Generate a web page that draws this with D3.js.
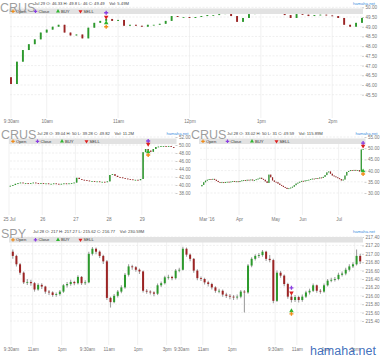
<!DOCTYPE html>
<html><head><meta charset="utf-8">
<script src="https://cdn.jsdelivr.net/npm/d3@7"></script>
<style>body{margin:0;background:#fff}svg{display:block}text{font-family:"Liberation Sans",Arial,sans-serif}</style>
</head><body><svg id="c" width="380" height="358"></svg>
<script>
// ---------- DATA ----------
// Chart 1: CRUS intraday, 5-minute bars (minutes after 9:30)
const crus1Open0 = 46.40;
const crus1Close = [46.05,47.2,47.8,48.1,48.35,48.7,48.85,49.0,49.1,48.7,48.55,48.6,48.4,48.95,49.2,49.3,49.4,49.3,49.35,49.05,
  49.1,49.05,49.0,49.1,49.1,49.15,49.3,49.55,49.5,49.5,49.45,49.5,49.55,49.6,49.6,49.65,49.7,49.55,49.25,49.45,
  49.65,49.7,49.72,49.75,49.72,49.7,49.6,49.45,49.65,49.62,49.55,49.6,49.62,49.58,49.55,49.45,49.1,49.0,49.2,49.45];
const crus1XTicks = [0,30,90,150,210,270];
const crus1XLabels = ["9:30am","10am","11am","12pm","1pm","2pm"];
const crus1YTicks = [45.5,46,46.5,47,47.5,48,48.5,49,49.5,50];
const crus1Marks = [{k:"close",i:16,v:49.72},{k:"sell",i:16,v:49.5},{k:"buy",i:16,v:49.2},{k:"open",i:16,v:49.0}];

// Chart 2: CRUS 5 days, 30-minute bars
const crus2Open0 = 39.7;
const crus2Close = [39.8,40.0,40.3,40.5,40.6,40.5,40.5,40.4,40.5,40.6,40.5,40.4,40.5,
  40.4,40.4,40.3,40.3,40.4,40.3,40.2,40.3,40.4,40.3,40.4,40.5,40.6,
  41.8,41.5,41.3,41.2,41.1,41.0,41.0,40.9,40.9,40.8,40.8,40.7,40.9,
  42.5,42.7,42.3,42.0,41.9,41.7,41.6,41.5,41.4,41.3,41.3,41.2,41.5,
  48.2,49.0,48.6,48.3,49.0,49.5,49.6,49.7,49.7,49.6,49.7,49.5,49.3];
const crus2XTicks = [0,13,26,39,52];
const crus2XLabels = ["25 Jul","26","27","28","29"];
const crus2YTicks = [38,40,42,44,46,48,50,52];
const crus2Marks = [{k:"close",i:54,v:51.0},{k:"sell",i:54,v:50.25},{k:"buy",i:54,v:48.25},{k:"open",i:54,v:47.5}];

// Chart 3: CRUS daily
const crus3Open0 = 33.0;
const crus3Close = [33.6,34.8,35.5,35.9,36.2,36.0,36.3,35.9,35.4,34.9,34.6,34.8,34.5,34.9,35.0,34.8,35.1,35.3,35.0,35.2,
  34.9,35.3,35.6,35.8,35.5,35.9,35.7,36.0,35.6,35.8,36.1,36.4,36.8,36.3,35.9,35.2,34.5,38.2,37.0,35.6,
  35.0,34.8,34.2,33.6,33.2,32.7,32.3,31.8,32.1,32.4,32.8,33.5,34.2,34.6,35.0,35.4,35.2,35.6,35.8,35.9,
  36.2,36.4,36.3,36.6,36.5,36.9,36.7,37.2,38.0,39.2,39.6,38.6,37.8,37.4,37.0,36.6,36.2,35.6,36.0,37.8,
  39.4,39.8,40.2,40.0,40.3,40.1,40.2,39.6,49.4,49.6];
const crus3XTicks = [3,21,41,56,76];
const crus3XLabels = ["Mar '16","Apr","May","Jun","Jul"];
const crus3YTicks = [30,35,40,45,50,55];
const crus3Marks = [{k:"close",i:89,v:52.3},{k:"sell",i:89,v:51.0},{k:"buy",i:89,v:39.8},{k:"open",i:89,v:38.5}];

// Chart 4: SPY, 15-minute bars over four sessions
const spyOpen0 = 217.05;
const spyClose = [216.95,216.75,216.55,216.32,216.33,216.30,216.15,216.26,216.22,216.10,216.08,216.02,216.04,216.10,216.25,216.28,216.33,216.30,216.45,216.30,
  216.32,217.00,217.12,217.05,216.95,216.82,215.95,215.85,216.00,216.10,216.20,216.50,216.70,216.68,216.62,216.58,216.12,216.10,216.08,216.05,
  216.25,216.30,216.44,216.45,216.42,216.60,216.62,217.12,216.98,216.88,216.60,216.42,216.40,216.32,216.28,216.20,216.12,216.12,216.03,216.00,
  215.98,215.96,215.98,216.10,216.08,216.72,216.88,216.95,216.97,217.05,216.88,216.85,215.88,216.55,216.48,216.28,215.98,215.90,215.97,215.90,
  215.98,216.08,216.12,216.25,216.12,216.10,216.25,216.36,216.38,216.40,216.50,216.53,216.62,216.70,216.75,216.95,216.82];
const spyHigh = [217.10,216.98,216.78,216.58,216.40,216.38,216.33,216.30,216.30,216.24,216.14,216.11,216.08,216.14,216.28,216.33,216.38,216.36,216.49,216.47,
  216.37,217.05,217.16,217.15,217.08,216.98,216.85,215.98,216.04,216.14,216.25,216.54,216.75,216.74,216.71,216.65,216.60,216.16,216.13,216.11,
  216.29,216.34,216.48,216.50,216.48,216.64,216.67,217.17,217.15,217.01,216.90,216.63,216.46,216.43,216.36,216.31,216.23,216.17,216.15,216.07,
  216.04,216.02,216.03,216.14,216.14,216.76,216.92,216.99,217.02,217.09,217.07,216.97,216.88,216.60,216.59,216.51,216.31,216.02,216.02,216.00,
  216.03,216.12,216.17,216.29,216.27,216.16,216.29,216.40,216.43,216.45,216.55,216.58,216.67,216.75,216.80,217.10,217.00];
const spyLow = [216.88,216.70,216.50,216.28,216.26,216.24,216.10,216.12,216.16,216.05,216.02,215.98,215.98,216.00,216.07,216.20,216.24,216.25,216.27,216.26,
  216.26,216.30,216.96,216.99,216.90,216.76,215.90,215.72,215.82,215.96,216.06,216.17,216.46,216.62,216.57,216.52,216.08,216.05,216.03,215.99,
  216.02,216.21,216.27,216.39,216.37,216.39,216.56,216.60,216.93,216.82,216.55,216.37,216.35,216.27,216.22,216.15,216.07,216.06,215.98,215.95,
  215.92,215.90,215.91,215.94,215.60,216.05,216.68,216.84,216.90,216.93,216.83,216.80,215.82,215.85,216.43,216.23,215.93,215.84,215.85,215.84,
  215.86,215.95,216.03,216.09,216.07,216.05,216.07,216.22,216.32,216.34,216.37,216.46,216.49,216.58,216.66,216.72,216.76];
const spyXTicks = [0,6,14,21,27,35,43,47,53,61,73,79,87,95];
const spyXLabels = ["9:30am","11am","1pm","9:30am","11am","1pm","3pm","9:30am","11am","1pm","9:30am","11am","1pm","3pm"];
const spyYTicks = [215.4,215.6,215.8,216.0,216.2,216.4,216.6,216.8,217.0,217.2,217.4];
const spyMarks = [{k:"close",i:77,v:216.19},{k:"sell",i:77,v:216.07},{k:"buy",i:77,v:215.64},{k:"open",i:77,v:215.57}];

const legendItems = [{k:"open",t:"Open"},{k:"close",t:"Close"},{k:"buy",t:"BUY"},{k:"sell",t:"SELL"}];

// ---------- DRAWING ----------
const svg = d3.select("#c");
svg.append("rect").attr("width",380).attr("height",358).attr("fill","#fff");
const UP="#2c9a2c", DOWN="#9c2424", WICK="#a0a0a0";
const MCOL={open:"#f08c1a",close:"#8a3fe0",buy:"#2fb52f",sell:"#dd1f1f"};

function marker(g, k, cx, cy, s){
  const sym = (k==="buy"||k==="sell") ? d3.symbolTriangle : d3.symbolCross;
  g.append("path").attr("d", d3.symbol().type(sym).size(s)())
    .attr("transform",`translate(${cx},${cy})${k==="sell"?" rotate(180)":""}`)
    .attr("fill",MCOL[k]);
}

function panel(c){
  const g = svg.append("g");
  const x = d3.scaleLinear().domain(c.xDomain).range(c.xRange);
  const y = d3.scaleLinear().domain(c.yDomain).range(c.yRange);
  const [L,R] = c.plotX;
  // grid
  g.append("g").selectAll("line").data(c.yTicks).join("line")
    .attr("x1",L).attr("x2",R).attr("y1",d=>y(d)).attr("y2",d=>y(d))
    .attr("stroke","#e4e4e4").attr("stroke-width",0.6).attr("stroke-dasharray","2,1.5");
  g.append("g").selectAll("line").data(c.xTicks).join("line")
    .attr("x1",d=>x(d)).attr("x2",d=>x(d)).attr("y1",c.plotY[0]).attr("y2",c.plotY[1])
    .attr("stroke","#e8e8e8").attr("stroke-width",0.6);
  // axes
  const ya = g.append("g").attr("transform",`translate(${R},0)`)
    .call(d3.axisRight(y).tickValues(c.yTicks).tickFormat(d3.format(".2f")).tickSize(2).tickPadding(1.5));
  ya.select(".domain").remove();
  ya.selectAll("line").attr("stroke","#999").attr("stroke-width",0.5);
  ya.selectAll("text").attr("font-size",4.6).attr("fill","#777").attr("font-family","Liberation Sans, Arial");
  const xa = g.append("g").attr("transform",`translate(0,${c.xLabelY})`)
    .call(d3.axisBottom(x).tickValues(c.xTicks).tickFormat((d,i)=>c.xLabels[i]).tickSize(0).tickPadding(0));
  xa.select(".domain").remove();
  xa.selectAll("text").attr("font-size",4.6).attr("fill","#777").attr("font-family","Liberation Sans, Arial");
  // candles
  const bars = c.close.map((cl,i)=>{
    const o = i===0 ? c.open0 : c.close[i-1];
    const h = c.high ? c.high[i] : Math.max(o,cl);
    const l = c.low ? c.low[i] : Math.min(o,cl);
    return {i,o,c:cl,h,l};
  });
  const cg = g.append("g");
  cg.selectAll("line").data(bars).join("line")
    .attr("x1",d=>x(c.pos(d.i))).attr("x2",d=>x(c.pos(d.i)))
    .attr("y1",d=>y(d.h)).attr("y2",d=>y(d.l))
    .attr("stroke",c.high?WICK:"#555").attr("stroke-width",c.high?1.1:0.5);
  cg.selectAll("rect").data(bars).join("rect")
    .attr("x",d=>x(c.pos(d.i))-c.bw/2).attr("width",c.bw)
    .attr("y",d=>y(Math.max(d.o,d.c)))
    .attr("height",d=>Math.max(0.8,Math.abs(y(d.o)-y(d.c))))
    .attr("fill",d=>d.c>=d.o?UP:DOWN);
  // legend bar
  g.append("rect").attr("x",L-1).attr("y",c.legY).attr("width",R-L+2).attr("height",5.5).attr("fill","#e2e2e2");
  legendItems.forEach((it,j)=>{
    const lx = L+3+j*c.legStep;
    marker(g,it.k,lx,c.legY+2.8,7);
    g.append("text").attr("x",lx+3).attr("y",c.legY+4.3).attr("font-size",4.2).attr("fill","#333").text(it.t);
  });
  // title, header, link
  g.append("text").attr("x",c.titleX).attr("y",c.titleY).attr("font-size",12.5).attr("fill","#8c8c8c").attr("fill-opacity",0.85).text(c.title);
  g.append("text").attr("x",c.headX).attr("y",c.headY).attr("font-size",4.2).attr("fill","#444").attr("xml:space","preserve").text(c.header);
  g.append("text").attr("x",R+13).attr("y",c.headY).attr("font-size",4.2).attr("fill","#3d8fe0").attr("text-anchor","end").text("hamaha.net");
  // signal markers
  c.marks.forEach(m=>marker(g,m.k,x(c.pos(m.i)),y(m.v),9));
}

panel({title:"CRUS",titleX:0,titleY:12,headX:34,headY:5,
  header:"Jul 29 O: 46.33 H: 49.8 L: 46 C: 49.49    Vol: 5.49M",
  open0:crus1Open0,close:crus1Close,pos:i=>i*5,bw:1.9,
  xDomain:[0,295],xRange:[11,362],yDomain:[45.5,50],yRange:[94.7,7.3],
  plotX:[10,362],plotY:[8,118],xLabelY:120,legY:8.5,legStep:22.5,
  xTicks:crus1XTicks,xLabels:crus1XLabels,yTicks:crus1YTicks,marks:crus1Marks});

panel({title:"CRUS",titleX:1,titleY:139,headX:37,headY:134.5,
  header:"Jul 28 O: 39.04 H: 50 L: 39.28 C: 49.82    Vol: 11.2M",
  open0:crus2Open0,close:crus2Close,pos:i=>i+0.5,bw:1.5,
  xDomain:[0,65],xRange:[9,175],yDomain:[38,52],yRange:[193,137],
  plotX:[10,175.5],plotY:[138,215],xLabelY:218,legY:138.5,legStep:24.5,
  xTicks:crus2XTicks,xLabels:crus2XLabels,yTicks:crus2YTicks,marks:crus2Marks});

panel({title:"CRUS",titleX:191,titleY:139,headX:227,headY:134.5,
  header:"Jul 28 O: 33.02 H: 50 L: 31 C: 49.59    Vol: 115.89M",
  open0:crus3Open0,close:crus3Close,pos:i=>i+0.5,bw:1.2,
  xDomain:[0,90],xRange:[201,364],yDomain:[30,55],yRange:[193,137],
  plotX:[200,364.5],plotY:[138,215],xLabelY:218,legY:138.5,legStep:24.5,
  xTicks:crus3XTicks,xLabels:crus3XLabels,yTicks:crus3YTicks,marks:crus3Marks});

panel({title:"SPY",titleX:1,titleY:237.5,headX:33,headY:232.5,
  header:"Jul 28 O: 217 H: 217.27 L: 215.62 C: 216.77    Vol: 230.59M",
  open0:spyOpen0,close:spyClose,high:spyHigh,low:spyLow,pos:i=>i+0.5,bw:2.0,
  xDomain:[0,97],xRange:[11,362],yDomain:[215.4,217.4],yRange:[321,237],
  plotX:[10,362],plotY:[237,345],xLabelY:348,legY:237,legStep:22.5,
  xTicks:spyXTicks,xLabels:spyXLabels,yTicks:spyYTicks,marks:spyMarks});

// watermark
svg.append("text").attr("x",376).attr("y",355).attr("text-anchor","end").attr("font-size",12.5)
  .attr("fill","#2d5fb5").attr("fill-opacity",0.9).text("hamaha.net");
</script></body></html>
